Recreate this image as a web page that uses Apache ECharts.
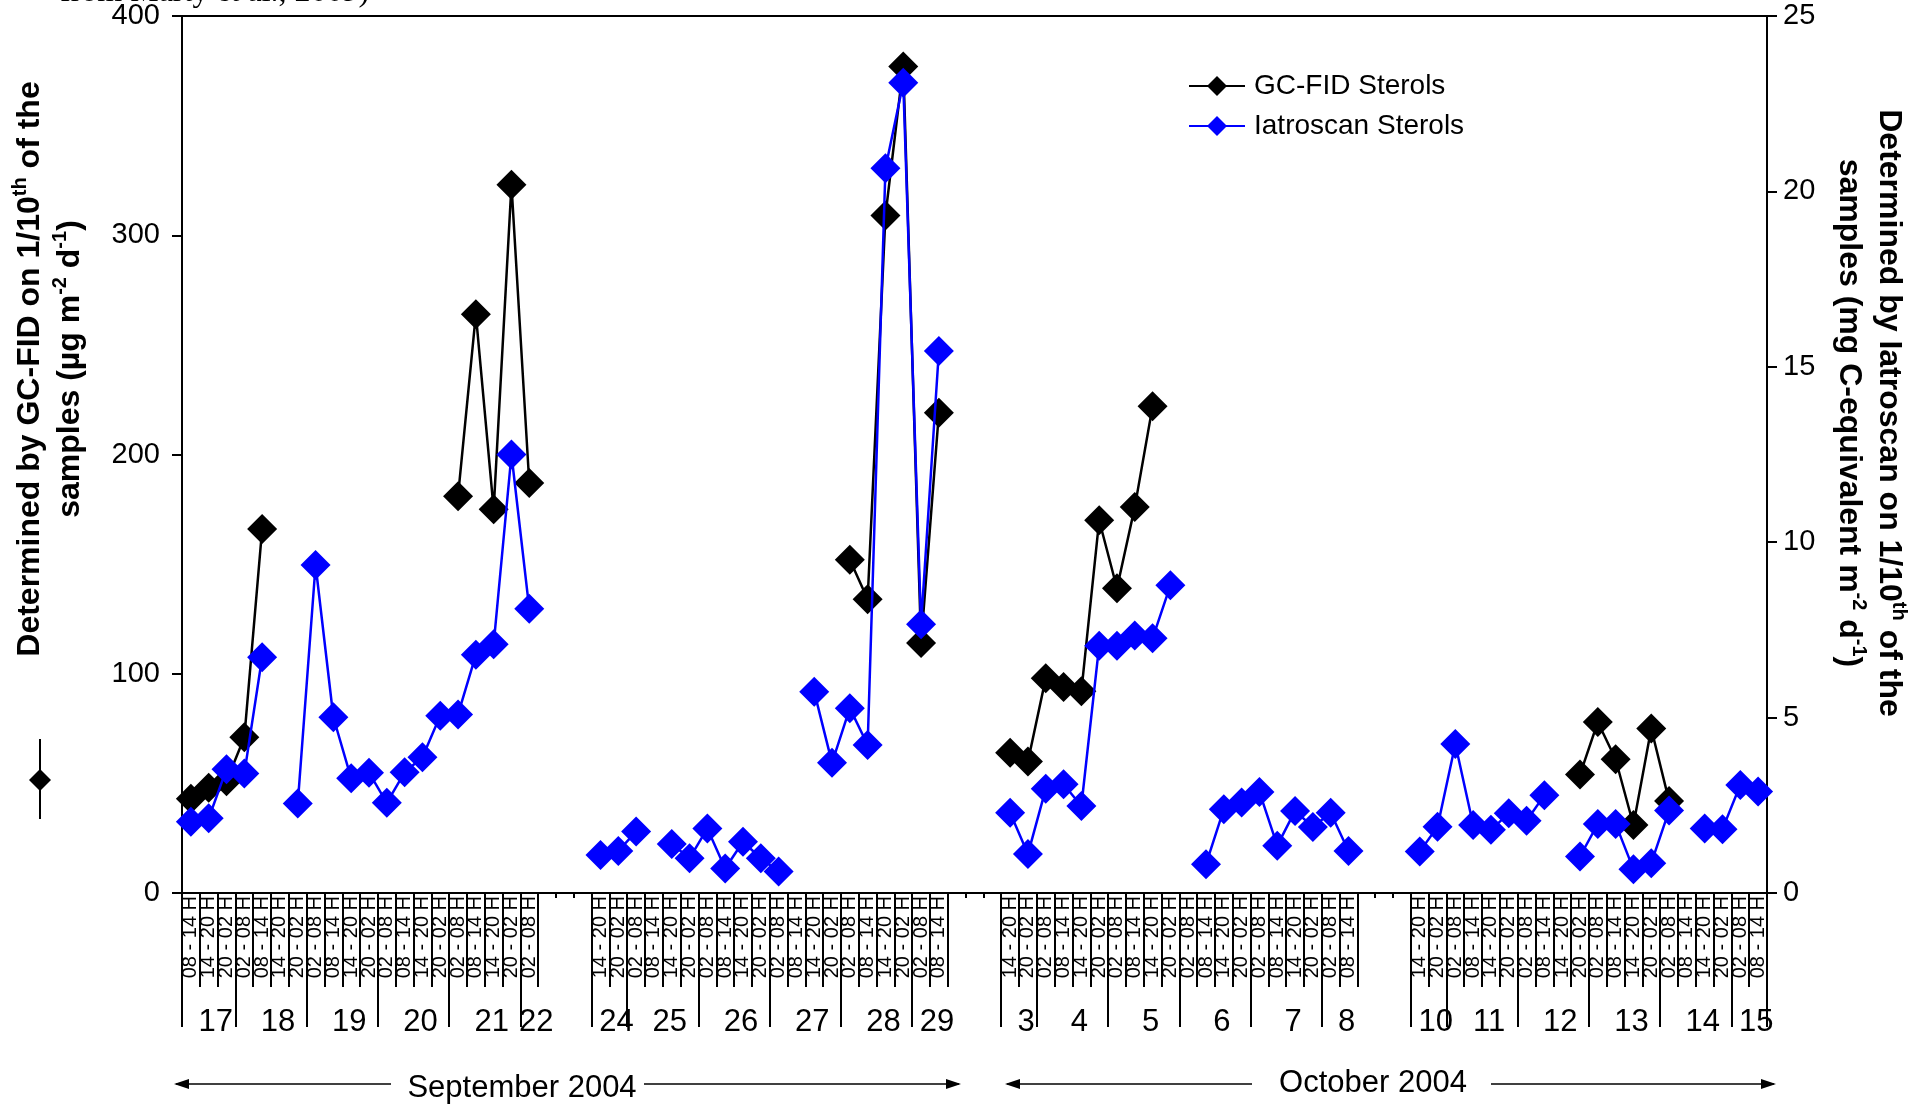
<!DOCTYPE html>
<html>
<head>
<meta charset="utf-8">
<script src="https://cdn.jsdelivr.net/npm/echarts@6/dist/echarts.min.js"></script>
<style>
  html, body { margin: 0; padding: 0; background: #fff; }
  #chart { width: 1923px; height: 1109px; }
</style>
</head>
<body>
<div id="chart"></div>
<script>
const FONT = '"Liberation Sans", Arial, sans-serif';

// sampling slots (6 h), '' = no sample / gap between campaigns
const slotLabels = [
  '08 - 14 H', '14 - 20 H', '20 - 02 H',
  '02 - 08 H', '08 - 14 H', '14 - 20 H', '20 - 02 H',
  '02 - 08 H', '08 - 14 H', '14 - 20 H', '20 - 02 H',
  '02 - 08 H', '08 - 14 H', '14 - 20 H', '20 - 02 H',
  '02 - 08 H', '08 - 14 H', '14 - 20 H', '20 - 02 H',
  '02 - 08 H',
  '', '', '',
  '14 - 20 H', '20 - 02 H',
  '02 - 08 H', '08 - 14 H', '14 - 20 H', '20 - 02 H',
  '02 - 08 H', '08 - 14 H', '14 - 20 H', '20 - 02 H',
  '02 - 08 H', '08 - 14 H', '14 - 20 H', '20 - 02 H',
  '02 - 08 H', '08 - 14 H', '14 - 20 H', '20 - 02 H',
  '02 - 08 H', '08 - 14 H',
  '', '', '',
  '14 - 20 H', '20 - 02 H',
  '02 - 08 H', '08 - 14 H', '14 - 20 H', '20 - 02 H',
  '02 - 08 H', '08 - 14 H', '14 - 20 H', '20 - 02 H',
  '02 - 08 H', '08 - 14 H', '14 - 20 H', '20 - 02 H',
  '02 - 08 H', '08 - 14 H', '14 - 20 H', '20 - 02 H',
  '02 - 08 H', '08 - 14 H',
  '', '', '',
  '14 - 20 H', '20 - 02 H',
  '02 - 08 H', '08 - 14 H', '14 - 20 H', '20 - 02 H',
  '02 - 08 H', '08 - 14 H', '14 - 20 H', '20 - 02 H',
  '02 - 08 H', '08 - 14 H', '14 - 20 H', '20 - 02 H',
  '02 - 08 H', '08 - 14 H', '14 - 20 H', '20 - 02 H',
  '02 - 08 H', '08 - 14 H'
];

const dayNames = ['17', '18', '19', '20', '21', '22', '24', '25', '26', '27', '28', '29',
  '3', '4', '5', '6', '7', '8', '10', '11', '12', '13', '14', '15'];

const monthNames = ['September 2004', 'October 2004'];

// GC-FID sterols, µg m-2 d-1 (left axis)
const gcFid = [
  43, 48, 51, 71, 166, null, null, null, null, null, null, null, null, null, null, 181, 264, 175, 323, 187,
  null, null, null,
  null, null, null, null, null, null, null, null, null, null, null, null, null, null, 152, 134, 309, 377, 114, 219,
  null, null, null,
  64, 60, 98, 94, 92, 170, 139, 176, 222, null, null, null, null, null, null, null, null, null, null, null,
  null, null, null,
  null, null, null, null, null, null, null, null, null, 54, 78, 61, 31, 75, 42, null, null, null, null, null
];

// Iatroscan sterols, mg C-equivalent m-2 d-1 (right axis)
const iatroscan = [
  2.03, 2.13, 3.53, 3.41, 6.72, null, 2.55, 9.35, 5.01, 3.27, 3.43, 2.57, 3.44, 3.87, 5.05, 5.09, 6.79, 7.09, 12.5, 8.1,
  null, null, null,
  1.08, 1.2, 1.75, null, 1.4, 0.99, 1.84, 0.7, 1.46, 0.99, 0.61, null, 5.74, 3.71, 5.27, 4.22, 20.66, 23.1, 7.66, 15.45,
  null, null, null,
  2.29, 1.11, 2.97, 3.1, 2.48, 7.05, 7.05, 7.34, 7.26, 8.77, null, 0.82, 2.39, 2.58, 2.88, 1.35, 2.34, 1.88, 2.29, 1.2,
  null, null, null,
  1.18, 1.89, 4.25, 1.94, 1.8, 2.27, 2.06, 2.79, null, 1.04, 1.97, 1.97, 0.68, 0.85, 2.35, null, 1.84, 1.82, 3.08, 2.89
];

const isDayStart = (i) => slotLabels[i] !== '' &&
  (i === 0 || slotLabels[i - 1] === '' || slotLabels[i].indexOf('02') === 0);
const inLabelBox = (i) => slotLabels[i] !== '' || (i > 0 && slotLabels[i - 1] !== '');

const tickLine = { color: '#000', width: 2 };

const hiddenCat = (interval, length) => ({
  type: 'category',
  position: 'bottom',
  data: slotLabels,
  boundaryGap: true,
  axisLine: { show: false },
  axisLabel: { show: false },
  splitLine: { show: false },
  axisTick: { show: true, interval, length, lineStyle: tickLine },
});

const chart = echarts.init(document.getElementById('chart'));

const option = {
  animation: false,
  backgroundColor: '#fff',
  textStyle: { fontFamily: FONT, color: '#000' },
  grid: {
    left: 182, right: 156, top: 16, bottom: 216,
    show: true, borderColor: '#000', borderWidth: 2,
    outerBoundsMode: 'none',
  },
  legend: {
    orient: 'vertical',
    left: 1183,
    top: 67,
    itemWidth: 56,
    itemHeight: 25,
    itemGap: 12,
    textStyle: { fontSize: 28, color: '#000', fontFamily: FONT, padding: [0, 0, 0, 4] },
    data: ['GC-FID Sterols', 'Iatroscan Sterols'],
  },
  xAxis: [
    {
      type: 'category',
      position: 'bottom',
      data: slotLabels,
      boundaryGap: true,
      axisLine: { show: true, lineStyle: tickLine },
      axisTick: { show: true, interval: 0, length: 5, lineStyle: tickLine },
      axisLabel: { interval: 0, rotate: 90, margin: 3, fontSize: 20, color: '#000', fontFamily: FONT },
      splitLine: { show: false },
    },
    hiddenCat(inLabelBox, 94),
    hiddenCat(isDayStart, 134),
  ],
  yAxis: [
    {
      type: 'value', position: 'left', min: 0, max: 400, interval: 100,
      axisLine: { show: true, lineStyle: tickLine },
      axisTick: { show: true, length: 10, lineStyle: tickLine },
      axisLabel: { fontSize: 29, color: '#000', margin: 22, fontFamily: FONT },
      splitLine: { show: false },
    },
    {
      type: 'value', position: 'right', min: 0, max: 25, interval: 5,
      axisLine: { show: true, lineStyle: tickLine },
      axisTick: { show: true, length: 10, lineStyle: tickLine },
      axisLabel: { fontSize: 29, color: '#000', margin: 16, fontFamily: FONT },
      splitLine: { show: false },
    },
  ],
  series: [
    {
      name: 'GC-FID Sterols',
      type: 'line',
      yAxisIndex: 0,
      data: gcFid,
      symbol: 'diamond',
      symbolSize: 30,
      showAllSymbol: true,
      connectNulls: false,
      itemStyle: { color: '#000' },
      lineStyle: { color: '#000', width: 2.5 },
      z: 2,
    },
    {
      name: 'Iatroscan Sterols',
      type: 'line',
      yAxisIndex: 1,
      data: iatroscan,
      symbol: 'diamond',
      symbolSize: 30,
      showAllSymbol: true,
      connectNulls: false,
      itemStyle: { color: '#0000ff' },
      lineStyle: { color: '#0000ff', width: 2.5 },
      z: 3,
    },
  ],
};

chart.setOption(option);

// day labels under the slot labels
const dayRanges = [];
slotLabels.forEach((lab, i) => {
  if (!lab) return;
  if (isDayStart(i)) dayRanges.push({ first: i, last: i });
  else dayRanges[dayRanges.length - 1].last = i;
});
const px = (i) => chart.convertToPixel({ xAxisIndex: 0 }, i);
const dayTexts = dayRanges.map((r, k) => ({
  type: 'text',
  x: (px(r.first) + px(r.last)) / 2 + 7,
  y: 1022,
  style: { text: dayNames[k], align: 'center', verticalAlign: 'middle', fill: '#000', font: '31px ' + FONT },
}));

const titleRich = {
  a: { fontSize: 32, fontWeight: 'bold', fontFamily: FONT, lineHeight: 40, fill: '#000', color: '#000' },
  s: { fontSize: 20, fontWeight: 'bold', fontFamily: FONT, lineHeight: 22, verticalAlign: 'top', fill: '#000', color: '#000' },
};

const arrow = (x1, x2, y, headLeft, headRight) => {
  const els = [{ type: 'line', shape: { x1, y1: y, x2, y2: y }, style: { stroke: '#000', lineWidth: 1.5 } }];
  if (headLeft) els.push({ type: 'polygon', shape: { points: [[x1 - 2, y], [x1 + 13, y - 5], [x1 + 13, y + 5]] }, style: { fill: '#000' } });
  if (headRight) els.push({ type: 'polygon', shape: { points: [[x2 + 2, y], [x2 - 13, y - 5], [x2 - 13, y + 5]] }, style: { fill: '#000' } });
  return els;
};

const graphics = [
  {
    type: 'text', x: 60, y: -7,
    style: { text: 'from Marty et al., 2009)', align: 'left', verticalAlign: 'middle', fill: '#000', font: '32px "Liberation Serif", "Times New Roman", serif' },
  },
  {
    type: 'text', x: 50, y: 369, rotation: Math.PI / 2,
    style: {
      text: '{a|Determined by GC-FID on 1/10}{s|th}{a| of the}\n{a|samples (µg m}{s|-2}{a| d}{s|-1}{a|)}',
      rich: titleRich, align: 'center', verticalAlign: 'middle', fill: '#000',
    },
  },
  {
    type: 'text', x: 1869, y: 413, rotation: -Math.PI / 2,
    style: {
      text: '{a|Determined by Iatroscan on 1/10}{s|th}{a| of the}\n{a|samples (mg C-equivalent m}{s|-2}{a| d}{s|-1}{a|)}',
      rich: titleRich, align: 'center', verticalAlign: 'middle', fill: '#000',
    },
  },
  // marker key left of the axis
  { type: 'line', shape: { x1: 40, y1: 739, x2: 40, y2: 819 }, style: { stroke: '#000', lineWidth: 2 } },
  { type: 'polygon', shape: { points: [[40, 769], [51, 780], [40, 791], [29, 780]] }, style: { fill: '#000' } },
  // months
  { type: 'text', x: 522, y: 1088, style: { text: monthNames[0], align: 'center', verticalAlign: 'middle', fill: '#000', font: '31px ' + FONT } },
  { type: 'text', x: 1373, y: 1083, style: { text: monthNames[1], align: 'center', verticalAlign: 'middle', fill: '#000', font: '31px ' + FONT } },
  ...arrow(176, 391, 1084, true, false),
  ...arrow(644, 959, 1084, false, true),
  ...arrow(1007, 1252, 1084, true, false),
  ...arrow(1491, 1774, 1084, false, true),
  ...dayTexts,
];

chart.setOption({ graphic: graphics });
</script>
</body>
</html>
